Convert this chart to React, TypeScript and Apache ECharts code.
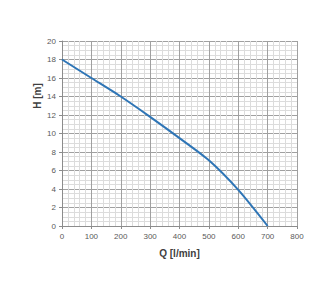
import React, { useEffect, useRef } from "react";
import * as echarts from "echarts";

const flow = [0, 100, 200, 300, 400, 500, 600, 700];
const head = [18, 16, 14, 11.8, 9.5, 7.1, 3.9, 0];
const xLabel = "Q [l/min]";
const yLabel = "H [m]";

export default function App() {
  const ref = useRef<HTMLDivElement>(null);
  useEffect(() => {
    if (!ref.current) return;
    const chart = echarts.init(ref.current, null, { renderer: "svg" });
    const labelStyle = { color: "#595959", fontSize: 8, fontFamily: "Liberation Sans" };
    chart.setOption({
      animation: false,
      backgroundColor: "#ffffff",
      grid: { left: 62, right: 29, top: 41, bottom: 60 },
      xAxis: {
        type: "value",
        min: 0,
        max: 800,
        interval: 100,
        name: xLabel,
        nameLocation: "middle",
        nameGap: 22,
        nameTextStyle: { color: "#404040", fontSize: 10, fontWeight: "bold", fontFamily: "Liberation Sans" },
        axisLine: { show: true, lineStyle: { color: "#8c8c8c", width: 1 } },
        axisTick: { show: true, length: 3, lineStyle: { color: "#8c8c8c" } },
        axisLabel: { ...labelStyle, margin: 6 },
        splitLine: { show: true, lineStyle: { color: "#a0a0a0", width: 1 } },
        minorTick: { show: false, splitNumber: 5 },
        minorSplitLine: { show: true, lineStyle: { color: "#dcdcdc", width: 1 } },
      },
      yAxis: {
        type: "value",
        min: 0,
        max: 20,
        interval: 2,
        axisLine: { show: true, lineStyle: { color: "#8c8c8c", width: 1 } },
        axisTick: { show: true, length: 3, lineStyle: { color: "#8c8c8c" } },
        axisLabel: { ...labelStyle, margin: 6 },
        splitLine: { show: true, lineStyle: { color: "#a0a0a0", width: 1 } },
        minorTick: { show: false, splitNumber: 4 },
        minorSplitLine: { show: true, lineStyle: { color: "#dcdcdc", width: 1 } },
      },
      graphic: [
        {
          type: "text",
          x: 37,
          y: 96,
          rotation: Math.PI / 2,
          style: {
            text: yLabel,
            fill: "#404040",
            font: "bold 10px 'Liberation Sans'",
            align: "center",
            verticalAlign: "middle",
          },
        },
      ],
      series: [
        {
          type: "line",
          data: flow.map((q, i) => [q, head[i]]),
          smooth: 0.25,
          showSymbol: false,
          lineStyle: { color: "#2e75b6", width: 2 },
        },
      ],
    });
    return () => chart.dispose();
  }, []);
  return (
    <div
      ref={ref}
      style={{ position: "absolute", left: 0, top: 0, width: 326, height: 286 }}
    />
  );
}
